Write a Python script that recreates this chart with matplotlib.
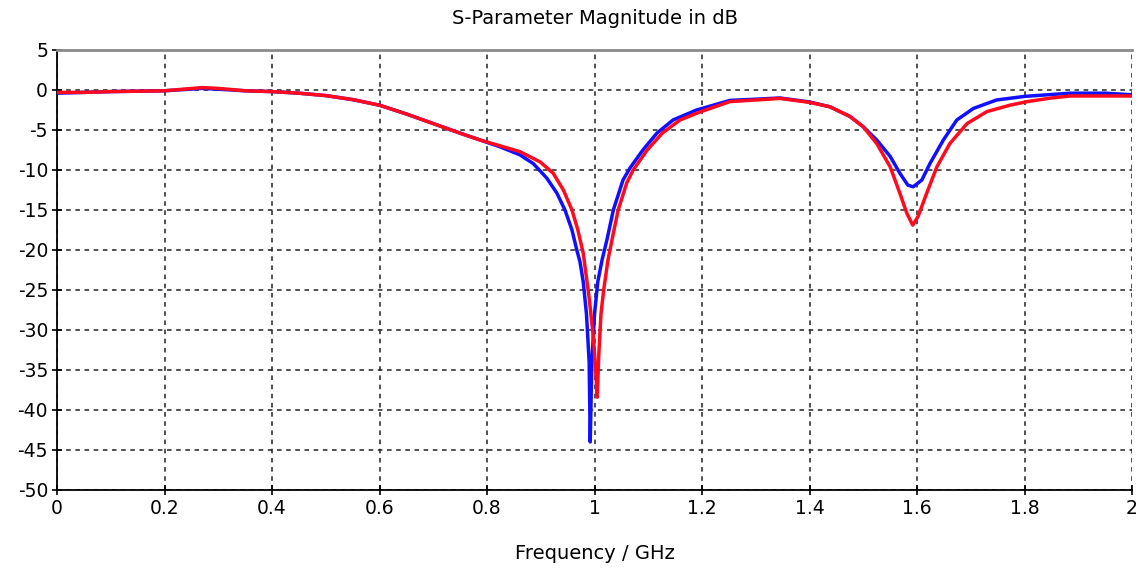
import matplotlib
matplotlib.use("Agg")
import matplotlib.pyplot as plt

# values (frequency in GHz, magnitude in dB)
freq_blue = [0, 0.05, 0.1, 0.2, 0.27, 0.3, 0.35, 0.4, 0.45, 0.5, 0.55, 0.6, 0.65,
             0.7, 0.75, 0.787, 0.824, 0.861, 0.886, 0.911, 0.930, 0.945, 0.958,
             0.967, 0.973, 0.979, 0.985, 0.99, 0.992, 0.995, 1.0, 1.006, 1.014,
             1.023, 1.035, 1.053, 1.066, 1.090, 1.116, 1.146, 1.19, 1.252, 1.3,
             1.345, 1.4, 1.438, 1.475, 1.5, 1.525, 1.55, 1.568, 1.583, 1.593,
             1.609, 1.624, 1.649, 1.674, 1.705, 1.748, 1.8, 1.885, 1.95, 2.0]
db_blue = [-0.4, -0.3, -0.2, -0.1, 0.2, 0.1, -0.1, -0.2, -0.4, -0.7, -1.2, -1.9, -3.0,
           -4.2, -5.4, -6.25, -7.1, -8.1, -9.2, -11.0, -12.9, -15.0, -17.5,
           -20.0, -21.5, -24.0, -28.0, -34.0, -44.0, -34.0, -28.0, -24.0, -21.25,
           -18.75, -15.0, -11.25, -9.75, -7.5, -5.4, -3.75, -2.5, -1.3, -1.15,
           -1.0, -1.5, -2.1, -3.3, -4.6, -6.25, -8.3, -10.4, -11.9, -12.1,
           -11.25, -9.2, -6.25, -3.75, -2.3, -1.25, -0.8, -0.4, -0.4, -0.6]

freq_red = [0, 0.05, 0.1, 0.2, 0.27, 0.3, 0.35, 0.4, 0.45, 0.5, 0.55, 0.6, 0.65,
            0.7, 0.75, 0.787, 0.861, 0.899, 0.923, 0.942, 0.958, 0.969, 0.979,
            0.99, 0.998, 1.003, 1.005, 1.008, 1.012, 1.017, 1.025, 1.035, 1.044,
            1.060, 1.072, 1.098, 1.126, 1.159, 1.196, 1.252, 1.3, 1.345, 1.4,
            1.438, 1.475, 1.5, 1.525, 1.55, 1.568, 1.581, 1.592, 1.602, 1.618,
            1.637, 1.661, 1.693, 1.73, 1.773, 1.805, 1.85, 1.885, 1.95, 2.0]
db_red = [-0.3, -0.3, -0.2, -0.1, 0.3, 0.2, -0.1, -0.2, -0.4, -0.7, -1.2, -1.9, -3.0,
          -4.2, -5.4, -6.25, -7.7, -9.0, -10.4, -12.5, -15.0, -17.5, -20.4,
          -26.0, -31.0, -36.0, -38.4, -33.0, -28.0, -25.0, -21.25, -17.9, -15.0,
          -11.6, -10.0, -7.5, -5.4, -3.75, -2.75, -1.45, -1.25, -1.05, -1.55,
          -2.1, -3.3, -4.6, -6.7, -9.6, -12.9, -15.4, -16.9, -15.8, -12.9,
          -9.6, -6.7, -4.2, -2.7, -1.9, -1.45, -1.0, -0.75, -0.75, -0.75]

xticks = [0, 0.2, 0.4, 0.6, 0.8, 1, 1.2, 1.4, 1.6, 1.8, 2]
xtick_labels = ["0", "0.2", "0.4", "0.6", "0.8", "1", "1.2", "1.4", "1.6", "1.8", "2"]
yticks = list(range(5, -51, -5))

plt.rcParams["axes.unicode_minus"] = False
plt.rcParams["font.family"] = "DejaVu Sans"

fig = plt.figure(figsize=(11.43, 5.70), dpi=100)
ax = fig.add_axes([0.0499, 0.1404, 0.9405, 0.7719])

ax.plot(freq_blue, db_blue, color="#1010ff", lw=2.5, zorder=3)
ax.plot(freq_red, db_red, color="#ff0a1e", lw=2.5, zorder=4)

ax.set_xlim(0, 2)
ax.set_ylim(-50, 5)
ax.set_xticks(xticks)
ax.set_xticklabels(xtick_labels)
ax.set_yticks(yticks)
ax.set_yticklabels([str(v) for v in yticks])
ax.tick_params(direction="inout", length=7, width=1.2, labelsize=13.5,
               colors="black", pad=3)

# dashed grid at every tick
ax.grid(True, color="#222222", linestyle=(0, (3, 3)), linewidth=1.1)

ax.spines["left"].set_color("black")
ax.spines["left"].set_linewidth(1.3)
ax.spines["bottom"].set_color("black")
ax.spines["bottom"].set_linewidth(1.3)
ax.spines["top"].set_color("#8a8a8a")
ax.spines["top"].set_linewidth(2)
ax.spines["right"].set_visible(False)

ax.set_title("S-Parameter Magnitude in dB", fontsize=14, pad=19)
ax.set_xlabel("Frequency / GHz", fontsize=14, labelpad=19)

fig.savefig("out.png", dpi=100)
